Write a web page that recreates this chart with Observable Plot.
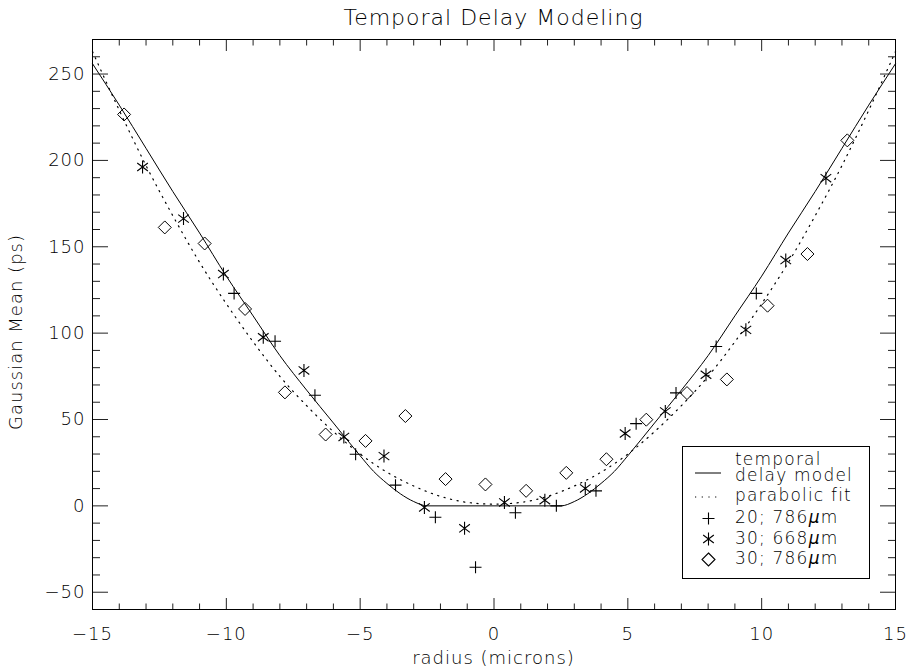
<!DOCTYPE html>
<html><head><meta charset="utf-8">
<script src="https://cdn.jsdelivr.net/npm/d3@7"></script>
<script src="https://cdn.jsdelivr.net/npm/@observablehq/plot@0.6"></script>
<style>
body{margin:0;background:#fff;}
#wrap{position:relative;width:911px;height:671px;font-family:"DejaVu Sans",sans-serif;font-weight:200;color:#000;letter-spacing:1px;}
#title{height:36px;line-height:36px;font-size:22px;padding-left:92px;width:803px;text-align:center;}
.abs{position:absolute;white-space:nowrap;}
#xlab{left:92px;width:803px;top:646px;text-align:center;font-size:18px;line-height:24px;}
#ylab{left:16px;top:332px;font-size:18px;line-height:22px;transform:translate(-50%,-50%) rotate(-90deg);transform-origin:center center;}
#legend{position:absolute;left:682px;top:446px;width:188px;height:133px;border:1px solid #000;box-sizing:border-box;}
</style></head>
<body>
<div id="wrap">
  <div id="title">Temporal Delay Modeling</div>
  <div id="chart"></div>
  <div class="abs" id="xlab">radius (microns)</div>
  <div class="abs" id="ylab">Gaussian Mean (ps)</div>
  <div id="legend"></div>
</div>
<script>
// ---- data ----
const plusX = [-9.71, -8.18, -6.69, -5.17, -3.68, -2.19, -0.69, 0.80, 2.33, 3.81, 5.31, 6.80, 8.30, 9.80];
const plusY = [123.0, 95.3, 64.0, 29.9, 12.0, -6.6, -35.5, -4.0, 0.0, 8.7, 47.6, 65.4, 92.3, 123.0];

const starX = [-13.13, -11.60, -10.11, -8.62, -7.10, -5.61, -4.11, -2.60, -1.10, 0.39, 1.90, 3.41, 4.90, 6.40, 7.92, 9.41, 10.90, 12.40];
const starY = [196.2, 166.3, 134.2, 97.6, 78.4, 39.9, 28.8, -0.9, -13.0, 2.0, 3.3, 10.1, 41.9, 54.7, 75.9, 101.9, 142.3, 189.7];

const diamX = [-13.82, -12.30, -10.81, -9.30, -7.81, -6.29, -4.80, -3.31, -1.81, -0.32, 1.20, 2.70, 4.20, 5.69, 7.21, 8.70, 10.22, 11.71, 13.20];
const diamY = [226.6, 161.2, 151.9, 114.0, 65.7, 41.3, 37.6, 52.0, 15.5, 12.4, 8.7, 19.1, 27.0, 49.9, 65.3, 73.2, 115.9, 145.8, 211.6];

const modelX = [-15, -14, -13, -12, -11, -10, -9, -8, -7, -6, -5, -4.5, -4, -3.5, -3, -2.5, 0, 2.5, 3, 3.5, 4, 4.5, 5, 6, 7, 8, 9, 10, 11, 12, 13, 14, 15];
const modelY = [256, 232, 207, 182, 158, 133, 110, 87, 67, 48, 29, 20, 13, 7, 2.5, 0, 0, 0, 2.5, 7, 13, 20, 29, 48, 67, 87, 110, 133, 158, 182, 207, 232, 256];

const fitX = [-15, -14, -13, -12, -11, -10, -9, -8, -7, -6, -5, -4, -3, -2, -1, 0, 1, 2, 3, 4, 5, 6, 7, 8, 9, 10, 11, 12, 13, 14, 15];
const fitY = [263, 229, 197, 168, 141, 117, 95, 75, 58, 43, 30, 19.5, 11.5, 5.5, 2, 1, 2, 5.5, 11.5, 19.5, 30, 43, 58, 75, 95, 117, 141, 168, 197, 229, 263];

const xMajor = [-15, -10, -5, 0, 5, 10, 15];
const xMinor = [-14, -13, -12, -11, -9, -8, -7, -6, -4, -3, -2, -1, 1, 2, 3, 4, 6, 7, 8, 9, 11, 12, 13, 14];
const yMajor = [-50, 0, 50, 100, 150, 200, 250];
const yMinor = [-40, -30, -20, -10, 10, 20, 30, 40, 60, 70, 80, 90, 110, 120, 130, 140, 160, 170, 180, 190, 210, 220, 230, 240, 260];

const legendLabels = ["temporal", "delay model", "parabolic fit", "20; 786", "30; 668", "30; 786"];

// ---- symbols ----
const plusSym = {draw(c, s){const r=Math.sqrt(s/Math.PI); c.moveTo(-r,0); c.lineTo(r,0); c.moveTo(0,-r); c.lineTo(0,r);}};
const starSym = {draw(c, s){const r=Math.sqrt(s/Math.PI); c.moveTo(0,-r); c.lineTo(0,r); const a=r*0.82, b=r*0.62; c.moveTo(-a,-b); c.lineTo(a,b); c.moveTo(-a,b); c.lineTo(a,-b);}};
const diamSym = {draw(c, s){const r=Math.sqrt(s/Math.PI); c.moveTo(0,-r); c.lineTo(r,0); c.lineTo(0,r); c.lineTo(-r,0); c.closePath();}};

const zip = (xs, ys) => xs.map((x, i) => ({x, y: ys[i]}));
const plusData = zip(plusX, plusY), starData = zip(starX, starY), diamData = zip(diamX, diamY);
const model = zip(modelX, modelY), fit = zip(fitX, fitY);

const tickAxis = (fn, anchor, ticks, size) => fn({anchor, ticks, tickSize: size, fill: "none", label: null, stroke: "#222"});

const chart = Plot.plot({
  width: 911, height: 635,
  marginTop: 3, marginBottom: 62, marginLeft: 92, marginRight: 16,
  style: {fontFamily: '"DejaVu Sans", sans-serif', fontSize: "18px", fontWeight: 200, letterSpacing: "1px", background: "#fff", color: "#000"},
  x: {domain: [-15, 15]},
  y: {domain: [-60, 270]},
  marks: [
    Plot.line(model, {x: "x", y: "y", curve: "monotone-x", stroke: "#000", strokeWidth: 1}),
    Plot.line(fit, {x: "x", y: "y", curve: "monotone-x", stroke: "#000", strokeWidth: 1.2, strokeDasharray: "1.2,5.5"}),
    Plot.dot(plusData, {x: "x", y: "y", symbol: plusSym, r: 6, stroke: "#000", fill: "none", strokeWidth: 1.1}),
    Plot.dot(starData, {x: "x", y: "y", symbol: starSym, r: 6.5, stroke: "#000", fill: "none", strokeWidth: 1.1}),
    Plot.dot(diamData, {x: "x", y: "y", symbol: diamSym, r: 6.5, stroke: "#000", fill: "none", strokeWidth: 1}),
    tickAxis(Plot.axisX, "bottom", xMajor, -11),
    tickAxis(Plot.axisX, "bottom", xMinor, -5.5),
    tickAxis(Plot.axisX, "top", xMajor, -11),
    tickAxis(Plot.axisX, "top", xMinor, -5.5),
    tickAxis(Plot.axisY, "left", yMajor, -16),
    tickAxis(Plot.axisY, "left", yMinor, -8),
    tickAxis(Plot.axisY, "right", yMajor, -16),
    tickAxis(Plot.axisY, "right", yMinor, -8),
    Plot.axisX({anchor: "bottom", ticks: xMajor, tickSize: 0, tickPadding: 18, label: null, fill: "#000"}),
    Plot.axisY({anchor: "left", ticks: yMajor, tickSize: 0, tickPadding: 7, label: null, fill: "#000"}),
    Plot.frame({stroke: "#000", strokeWidth: 1})
  ]
});
document.getElementById("chart").appendChild(chart);

// ---- legend (layout only) ----
const lg = d3.select("#legend").append("svg").attr("width", 186).attr("height", 131)
  .style("position", "absolute").style("left", 0).style("top", 0)
  .style("font-family", '"DejaVu Sans", sans-serif').style("font-weight", 200).style("font-size", "17px").style("letter-spacing", "1.2px");
lg.append("line").attr("x1", 12).attr("x2", 38).attr("y1", 26).attr("y2", 26).attr("stroke", "#000");
lg.append("line").attr("x1", 12).attr("x2", 38).attr("y1", 50).attr("y2", 50).attr("stroke", "#000").attr("stroke-width", 1.2).attr("stroke-dasharray", "1.2,5.5");
const syms = [[plusSym, 6, 71.5], [starSym, 6.5, 92], [diamSym, 6.5, 112.5]];
syms.forEach(([s, r, cy]) => {
  lg.append("path").attr("d", d3.symbol(s, r * r * Math.PI)()).attr("transform", `translate(25.5,${cy})`)
    .attr("fill", "none").attr("stroke", "#000").attr("stroke-width", 1.1);
});
const baselines = [18, 34, 54, 75.5, 96.5, 116.5];
legendLabels.forEach((t, i) => {
  const tx = lg.append("text").attr("x", 52).attr("y", baselines[i]).attr("fill", "#000");
  tx.append("tspan").text(t);
  if (i >= 3) {
    tx.append("tspan").attr("font-style", "italic").attr("font-weight", 200).text("\u03bc");
    tx.append("tspan").text("m");
  }
});
</script>
</body></html>
